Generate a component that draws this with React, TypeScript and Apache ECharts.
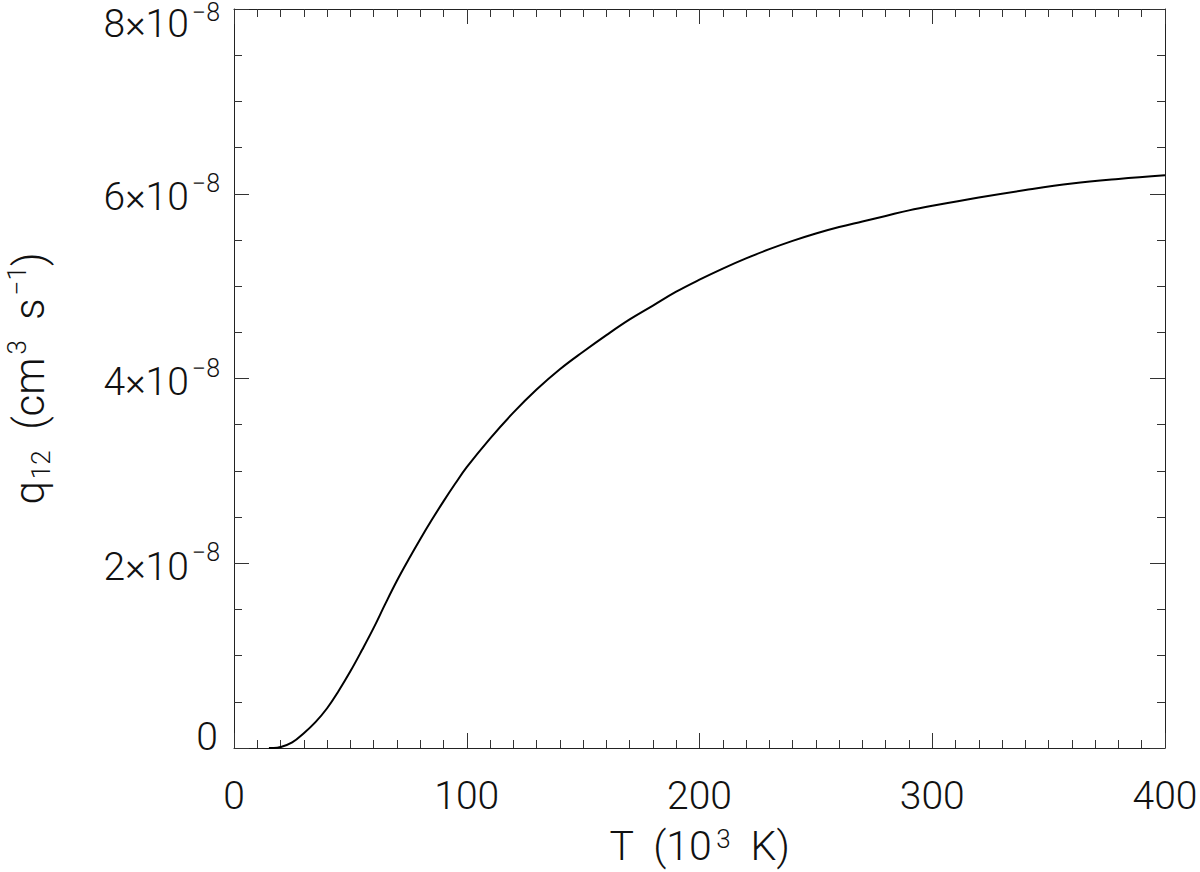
import React, { useEffect, useRef } from "react";
import * as echarts from "echarts";

// Temperature in 10^3 K
const temperature: number[] = [
  15, 17, 20, 25, 30, 35, 40, 45, 50, 55, 60, 65, 70, 75, 80, 85, 90, 95, 100, 110, 120, 130, 140,
  150, 160, 170, 180, 190, 200, 210, 220, 230, 240, 250, 260, 270, 280, 290, 300, 320, 340, 360, 380, 400,
];
// q12 in units of 1e-8 cm^3 s^-1
const q12e8: number[] = [
  0, 0, 0.01, 0.06, 0.16, 0.28, 0.43, 0.62, 0.83, 1.06, 1.3, 1.56, 1.81, 2.04, 2.26, 2.47, 2.67, 2.86, 3.04, 3.35, 3.63, 3.88, 4.1,
  4.29, 4.47, 4.64, 4.79, 4.94, 5.07, 5.19, 5.3, 5.4, 5.49, 5.57, 5.64, 5.7, 5.76, 5.82, 5.87, 5.96, 6.04, 6.11, 6.16, 6.2,
];
const xTicks = { min: 0, max: 400, interval: 100 };
const yTicks = { min: 0, max: 8, interval: 2 };

const FONT = "Roboto";
const INK = "#111";

export default function App() {
  const ref = useRef<HTMLDivElement>(null);
  useEffect(() => {
    if (!ref.current) return;
    const chart = echarts.init(ref.current, undefined, { renderer: "svg" });
    const data = temperature.map((t, i) => [t, q12e8[i]]);
    const lineStyle = { color: "#222", width: 1 };
    const tick = (len: number) => ({ show: true, inside: true, length: len, lineStyle: { color: "#333", width: 1 } });
    const minor = (n: number) => ({ show: true, splitNumber: n, length: 8, lineStyle: { color: "#333", width: 1 } });
    const baseX = {
      type: "value" as const,
      min: xTicks.min,
      max: xTicks.max,
      interval: xTicks.interval,
      axisLine: { show: true, onZero: false, lineStyle },
      axisTick: tick(15),
      minorTick: minor(10),
      splitLine: { show: false },
    };
    const baseY = {
      type: "value" as const,
      min: yTicks.min,
      max: yTicks.max,
      interval: yTicks.interval,
      axisLine: { show: true, onZero: false, lineStyle },
      axisTick: tick(15),
      minorTick: minor(4),
      splitLine: { show: false },
    };
    const txt = { fontFamily: FONT, fontWeight: 300, color: INK };
    chart.setOption({
      animation: false,
      backgroundColor: "#fff",
      grid: { left: 234, right: 35, top: 9, bottom: 124, containLabel: false, outerBoundsMode: "none" },
      xAxis: [
        {
          ...baseX,
          position: "bottom",
          axisLabel: { show: true, margin: 28, fontSize: 39, ...txt },
          name: "{n|T  (10}{s|3}{n|  K)}",
          nameLocation: "middle",
          nameGap: 78,
          nameTextStyle: {
            ...txt,
            rich: {
              n: { ...txt, fontSize: 41, lineHeight: 40, verticalAlign: "bottom" },
              s: { ...txt, fontSize: 26, lineHeight: 40, verticalAlign: "top", padding: [0, 0, 0, 4] },
            },
          },
        },
        { ...baseX, position: "top", axisLabel: { show: false } },
      ],
      yAxis: [
        {
          ...baseY,
          position: "left",
          axisLabel: {
            show: true,
            margin: 14,
            align: "right",
            formatter: (v: number) =>
              v === 0 ? "{z|0}" : v === yTicks.max ? `{bt|${v}×10}{st|−8}` : `{b|${v}×10}{s|−8}`,
            rich: {
              b: { ...txt, fontSize: 39, lineHeight: 46, verticalAlign: "bottom" },
              s: { ...txt, fontSize: 25, lineHeight: 46, verticalAlign: "top", padding: [0, 0, 0, 3] },
              bt: { ...txt, fontSize: 39, lineHeight: 68, verticalAlign: "bottom" },
              st: { ...txt, fontSize: 25, lineHeight: 68, verticalAlign: "top", padding: [25, 0, 0, 3] },
              z: { ...txt, fontSize: 39, padding: [0, 2, 22, 0] },
            },
          },
          name: "{n|q}{b|12}{n|  (cm}{s|3}{n|  s}{s|−1}{n|)}",
          nameLocation: "middle",
          nameRotate: 90,
          nameGap: 180,
          nameTextStyle: {
            ...txt,
            rich: {
              n: { ...txt, fontSize: 42, lineHeight: 50, verticalAlign: "middle" },
              b: { ...txt, fontSize: 26, lineHeight: 50, verticalAlign: "bottom", padding: [0, 0, 0, 2] },
              s: { ...txt, fontSize: 26, lineHeight: 50, verticalAlign: "top", padding: [0, 0, 0, 3] },
            },
          },
        },
        { ...baseY, position: "right", axisLabel: { show: false } },
      ],
      series: [
        {
          type: "line",
          data,
          smooth: 0.4,
          symbol: "none",
          lineStyle: { color: "#000", width: 2 },
          xAxisIndex: 0,
          yAxisIndex: 0,
        },
      ],
    });
    return () => chart.dispose();
  }, []);
  return (
    <div
      ref={ref}
      style={{ position: "fixed", left: 0, top: 0, width: 1200, height: 872, background: "#fff" }}
    />
  );
}
